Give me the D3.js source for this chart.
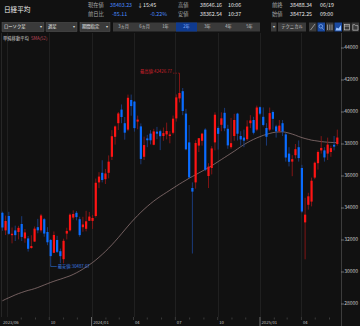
<!DOCTYPE html>
<html><head><meta charset="utf-8">
<script src="https://cdn.jsdelivr.net/npm/d3@7"></script>
<style>
html,body{margin:0;padding:0;background:#111;overflow:hidden;}
svg{display:block;font-family:"Noto Sans CJK JP","Noto Sans",sans-serif;}
</style></head><body>
<svg id="c" width="360" height="326"></svg>
<script>
// ---------- DATA ----------
const weeks = ["2023-06-19","2023-06-26","2023-07-03","2023-07-10","2023-07-17","2023-07-24","2023-07-31","2023-08-07","2023-08-14","2023-08-21","2023-08-28","2023-09-04","2023-09-11","2023-09-18","2023-09-25","2023-10-02","2023-10-09","2023-10-16","2023-10-23","2023-10-30","2023-11-06","2023-11-13","2023-11-20","2023-11-27","2023-12-04","2023-12-11","2023-12-18","2023-12-25",
"2024-01-01","2024-01-08","2024-01-15","2024-01-22","2024-01-29","2024-02-05","2024-02-12","2024-02-19","2024-02-26","2024-03-04","2024-03-11","2024-03-18","2024-03-25","2024-04-01","2024-04-08","2024-04-15","2024-04-22","2024-04-29","2024-05-06","2024-05-13","2024-05-20","2024-05-27","2024-06-03","2024-06-10","2024-06-17","2024-06-24","2024-07-01","2024-07-08","2024-07-15","2024-07-22","2024-07-29","2024-08-05","2024-08-12","2024-08-19","2024-08-26","2024-09-02","2024-09-09","2024-09-16","2024-09-23","2024-09-30","2024-10-07","2024-10-14","2024-10-21","2024-10-28","2024-11-04","2024-11-11","2024-11-18","2024-11-25","2024-12-02","2024-12-09","2024-12-16","2024-12-23","2024-12-30",
"2025-01-06","2025-01-13","2025-01-20","2025-01-27","2025-02-03","2025-02-10","2025-02-17","2025-02-24","2025-03-03","2025-03-10","2025-03-17","2025-03-24","2025-03-31","2025-04-07","2025-04-14","2025-04-21","2025-04-28","2025-05-05","2025-05-12","2025-05-19","2025-05-26","2025-06-02","2025-06-09","2025-06-16"];

const open = [33700,32600,33500,32300,32600,32500,33000,32100,32100,31500,
31900,32800,32600,33300,32500,32000,31200,32000,31300,30800,
32400,32600,33400,33700,33300,32800,32700,33200,33193,33500,
35600,36200,35800,36200,37200,38450,39300,40150,39300,38900,
40750,40650,39400,39100,37200,38350,38650,37950,38770,38800,
38500,38600,38500,38700,39600,40850,41300,39900,38100,35250,
35600,37900,38200,38900,36000,36500,38100,39000,39200,39950,
38950,37800,38500,39900,38500,38400,38300,39300,39500,38900,
40300,39700,39000,38900,40000,39100,38800,39300,38600,37400,
36900,37300,37800,36500,33100,34200,34400,35900,36800,37600,
37600,37400,37500,37950,38000];

const high = [33772,33527,33762,32780,32896,32886,33488,32691,32248,32297,
32845,33322,33634,33368,32801,32060,32533,32260,31466,32082,
32766,33666,33853,33811,33452,33452,33824,33755,33568,35839,
36239,36984,36441,37287,38865,39156,40000,40472,39688,41087,
41088,40697,39774,39286,38460,38574,38863,38950,39070,38893,
39030,39336,38797,39777,41100,42426.77,41500,40200,39188,35600,
38235,38350,38700,38980,36800,37868,39980,39100,39980,40257,
39200,39630,39884,39950,38800,38900,39480,39800,39700,40398,
40350,40288,39300,40279,40100,39200,39500,39500,38700,37800,
37300,38000,38220,36700,34639,34950,35900,36900,37600,38494,
37800,38400,37900,38500,38900];

const low = [32575,32306,32327,31791,31935,32037,31934,31830,31275,31459,
31892,32421,32466,32206,31675,30487.67,31183,31186,30551,30538,
32036,32528,33270,33227,32205,32515,32541,33181,32693,33400,
35243,35600,35500,35854,37000,37962,38876,39300,38271,38800,
39767,38774,38922,36733,37000,37800,37975,37922,38300,37617,
38200,38290,38043,38600,39400,40600,39800,37611,35880,31156,
35208,37500,37900,36300,35247,36100,37600,37651,38800,38800,
37700,37700,38200,38220,37900,37800,38200,39000,38600,38800,
39800,39100,37900,38800,38900,38400,38700,38500,36900,36600,
35987,37100,36900,33700,30792.74,33900,34100,35800,36400,37400,
36900,37000,37200,37600,37900];

const close = [32781,33189,32388,32391,32304,32759,32192,32473,31450,31624,
32710,32606,33533,32402,31857,30994,32315,31259,30991,31950,
32568,33585,33625,33431,32307,32970,33169,33464,33377,35577,
35963,35751,36158,36897,38487,39098,39910,39688,38707,40888,
40369,38992,39523,37068,37934,38236,38229,38787,38646,38487,
38683,38814,38596,39583,40912,41190,40063,37667,35909,35025,
38062,38364,38647,36391,36581,37723,39829,38635,39605,38981,
37913,38053,39500,38642,38283,38208,39091,39470,38701,40281,
39894,39190,38451,39931,39572,38787,39149,38776,37155,36887,
37053,37677,37120,33780,33585,34730,35705,36830,37503,37753,
37160,37965,37741,37834,38403.23];

const sma52 = [28200,28300,28390,28480,28570,28650,28720,28790,28850,28900,
28960,29030,29110,29190,29270,29350,29420,29490,29550,29620,
29690,29760,29850,29950,30060,30180,30310,30450,30590,30750,
30920,31100,31290,31490,31700,31920,32150,32390,32630,32870,
33100,33320,33530,33730,33920,34100,34270,34430,34580,34720,
34850,34980,35110,35240,35370,35500,35620,35740,35860,35970,
36080,36190,36300,36410,36520,36640,36770,36900,37030,37160,
37290,37420,37550,37690,37830,37960,38080,38190,38290,38380,
38460,38540,38600,38660,38710,38740,38760,38760,38730,38680,
38620,38550,38470,38400,38340,38290,38240,38210,38180,38150,
38130,38110,38100,38090,38080];

const yTicks = [28000,30000,32000,34000,36000,38000,40000,42000,44000];
const xGridDates = ["2023-07-01","2023-10-01","2024-01-01","2024-04-01","2024-07-01","2024-10-01","2025-01-01","2025-04-01"];
const xLabelDates = ["2023-06-19","2023-10-01","2024-01-01","2024-04-01","2024-07-01","2024-10-01","2025-01-01","2025-04-01"];
const xLabelTexts = ["2023/06","10","2024/01","04","07","10","2025/01","04"];
const minorTickDates = ["2023-08-01","2023-09-01","2023-11-01","2023-12-01","2024-02-01","2024-03-01","2024-05-01","2024-06-01","2024-08-01","2024-09-01","2024-11-01","2024-12-01","2025-02-01","2025-03-01","2025-05-01","2025-06-01"];

const headerRow1 = [["現在値","lab"],["38403.23","blue"],["↓","val"],["15:45","val"],["高値","lab"],["38646.16","val"],["10:06","val"],["前終","lab"],["38488.34","val"],["06/19","val"]];
const headerRow2 = [["前日比","lab"],["-85.11","blue"],["-0.22%","blue"],["","val"],["安値","lab"],["38362.54","val"],["10:37","val"],["始値","lab"],["38472.25","val"],["09:00","val"]];
const headerX = [88,110,137.5,143,178,200,228,272,290,320];
const headerX2 = [88,112,150,0,178,200,228,272,290,320];
const dropdowns = ["ローソク足","週足","期間指定"];
const tabs = ["3ヵ月","6ヵ月","1年","2年","3年","4年","5年"];
const selectedTab = "2年";

// ---------- DRAW ----------
const parse = d3.timeParse("%Y-%m-%d");
const svg = d3.select("#c");
const P = {l:1, r:341, t:33, b:317};
svg.append("rect").attr("width",360).attr("height",326).attr("fill","#111");

const x = d3.scaleTime().domain([new Date(2023,5,18), new Date(2025,5,26)]).range([P.l, P.r]);
const y = d3.scaleLinear().domain([28000,44000]).range([304,48]);
const cx = i => x(d3.timeDay.offset(parse(weeks[i]), 2));

// header
svg.append("text").attr("x",4).attr("y",10).attr("dominant-baseline","middle")
  .attr("font-size",6.6).attr("fill","#eee").text("日経平均");
const col = {lab:"#a8a8a8", val:"#e6e6e6", blue:"#4a8cff"};
headerRow1.forEach((d,i)=>svg.append("text").attr("x",headerX[i]).attr("y",6).attr("dominant-baseline","middle")
  .attr("font-size",5.3).attr("fill",col[d[1]]).text(d[0]));
headerRow2.forEach((d,i)=>{ if(!d[0]) return; svg.append("text").attr("x",headerX2[i]).attr("y",15).attr("dominant-baseline","middle")
  .attr("font-size",5.3).attr("fill",col[d[1]]).text(d[0]);});

// toolbar
const ddX = [[2,44],[46,77],[80,110]];
dropdowns.forEach((t,i)=>{
  const [a,b]=ddX[i];
  svg.append("rect").attr("x",a).attr("y",22.5).attr("width",b-a).attr("height",9).attr("fill","#3a3a3a").attr("stroke","#5a5a5a").attr("stroke-width",0.5);
  svg.append("text").attr("x",a+2).attr("y",27.2).attr("dominant-baseline","middle").attr("font-size",4.3).attr("fill","#eee").text(t);
  svg.append("text").attr("x",b-2).attr("y",27.2).attr("dominant-baseline","middle").attr("text-anchor","end").attr("font-size",4).attr("fill","#ddd").text("▾");
});
svg.append("rect").attr("x",113).attr("y",22.5).attr("width",147).attr("height",9).attr("fill","#3a3a3a");
tabs.forEach((t,i)=>{
  const a = 113+i*21;
  if(t===selectedTab) svg.append("rect").attr("x",a).attr("y",22.5).attr("width",21).attr("height",9).attr("fill","#0f3a8f");
  svg.append("text").attr("x",a+10.5).attr("y",27.2).attr("dominant-baseline","middle").attr("text-anchor","middle")
    .attr("font-size",4.2).attr("fill",t===selectedTab?"#8fb8ff":"#c8c8c8").text(t);
});
svg.append("rect").attr("x",271).attr("y",22.5).attr("width",5.5).attr("height",9).attr("fill","#3a3a3a");
svg.append("text").attr("x",273.7).attr("y",27.2).attr("dominant-baseline","middle").attr("text-anchor","middle").attr("font-size",4).attr("fill","#ddd").text("▾");
svg.append("rect").attr("x",278).attr("y",22.5).attr("width",28).attr("height",9).attr("fill","#3a3a3a");
svg.append("text").attr("x",292).attr("y",27.2).attr("dominant-baseline","middle").attr("text-anchor","middle").attr("font-size",4.3).attr("fill","#ccc").text("テクニカル");
// icons
const icons = [[309,"#3a3a3a"],[317.5,"#1b4aa0"],[326,"#3a3a3a"],[334.5,"#1b4aa0"],[343,"#3a3a3a"],[351.5,"#3a3a3a"]];
icons.forEach(([a,f])=>svg.append("rect").attr("x",a).attr("y",22.5).attr("width",7.5).attr("height",9).attr("fill",f));
const ic = svg.append("g").attr("stroke","#ccc").attr("stroke-width",0.6).attr("fill","none");
ic.append("line").attr("x1",310.5).attr("y1",30).attr("x2",315).attr("y2",24);
ic.append("circle").attr("cx",320.8).attr("cy",26.3).attr("r",1.8).attr("stroke","#9cc4ff");
ic.append("line").attr("x1",322).attr("y1",27.7).attr("x2",323.6).attr("y2",29.7).attr("stroke","#9cc4ff");
[327.5,329.8,332].forEach(a=>ic.append("line").attr("x1",a).attr("y1",24.5).attr("x2",a).attr("y2",30));
ic.append("path").attr("d","M335.5,30.5 L336.5,27.5 L338.5,28.5 L341,25 L341,30.5 Z").attr("fill","#9cc4ff").attr("stroke","none");
ic.append("rect").attr("x",344.3).attr("y",24.3).attr("width",5).attr("height",5.6);
ic.append("line").attr("x1",344.3).attr("y1",26.1).attr("x2",349.3).attr("y2",26.1);
ic.append("path").attr("d","M352.8,24.7 h2 l0.8,0.9 h2.4 v4.6 h-5.2 Z");

// grid
const g = svg.append("g");
xGridDates.forEach(d=>{
  const xx = Math.round(x(parse(d)))+0.5;
  g.append("line").attr("x1",xx).attr("x2",xx).attr("y1",P.t).attr("y2",P.b).attr("stroke","#202020").attr("stroke-width",1);
});
g.append("line").attr("x1",1.5).attr("x2",1.5).attr("y1",P.t).attr("y2",P.b).attr("stroke","#262626");
// right axis
g.append("line").attr("x1",P.r+0.5).attr("x2",P.r+0.5).attr("y1",P.t).attr("y2",326).attr("stroke","#3c3c3c");
yTicks.forEach(v=>{
  g.append("line").attr("x1",P.r).attr("x2",P.r+3).attr("y1",y(v)).attr("y2",y(v)).attr("stroke","#aaa").attr("stroke-width",0.6);
  g.append("text").attr("x",P.r+3.2).attr("y",y(v)).attr("dominant-baseline","middle").attr("font-size",5).attr("fill","#c8c8c8").text(v);
});
// x axis
minorTickDates.forEach(d=>{
  const xx = x(parse(d));
  g.append("line").attr("x1",xx).attr("x2",xx).attr("y1",317.5).attr("y2",319.5).attr("stroke","#555").attr("stroke-width",0.6);
});
xLabelDates.forEach((d,i)=>{
  const xx = i===0 ? 3 : x(parse(d));
  const isYear = xLabelTexts[i].includes("/") && i>0;
  if(i>0) g.append("line").attr("x1",xx).attr("x2",xx).attr("y1",317).attr("y2",isYear?326:320)
     .attr("stroke",isYear?"#8a8a8a":"#555").attr("stroke-width",isYear?0.8:0.6);
  g.append("text").attr("x",i===0?3:xx+1.5).attr("y",322.8).attr("dominant-baseline","middle")
    .attr("font-size",4.2).attr("fill","#c0c0c0").text(xLabelTexts[i]);
});

// legend
svg.append("text").attr("x",3).attr("y",39).attr("dominant-baseline","middle").attr("font-size",4.3).attr("fill","#cfcfcf").text("単純移動平均");
svg.append("text").attr("x",31).attr("y",39).attr("dominant-baseline","middle").attr("font-size",4.3).attr("fill","#c04a5e").text("SMA(52)");

// SMA line
const line = d3.line().x((d,i)=>cx(i)).y(d=>y(d)).curve(d3.curveMonotoneX);
svg.append("path").attr("d",line(sma52)).attr("fill","none").attr("stroke","#9c8080").attr("stroke-width",0.7);

// candles
const upB="#ff1414", upW="#8c1616", dnB="#0a6cff", dnW="#1c3f86";
const cg = svg.append("g");
weeks.forEach((w,i)=>{
  const up = close[i] >= open[i];
  const xx = cx(i);
  cg.append("line").attr("x1",xx).attr("x2",xx).attr("y1",y(high[i])).attr("y2",y(low[i]))
    .attr("stroke",up?upW:dnW).attr("stroke-width",0.9);
  const top = y(Math.max(open[i],close[i])), bot = y(Math.min(open[i],close[i]));
  cg.append("rect").attr("x",xx-1.1).attr("width",2.2).attr("y",top).attr("height",Math.max(1,bot-top))
    .attr("fill",up?upB:dnB);
});

// annotations: highest / lowest
const iHi = high.indexOf(d3.max(high)), iLo = low.indexOf(d3.min(low));
const hx = cx(iHi), hy = y(high[iHi]);
svg.append("line").attr("x1",173).attr("x2",hx).attr("y1",hy).attr("y2",hy).attr("stroke","#b01818").attr("stroke-width",0.6).attr("stroke-dasharray","1.5,1");
svg.append("text").attr("x",172).attr("y",hy-1.3).attr("dominant-baseline","middle").attr("text-anchor","end")
  .attr("font-size",4.3).attr("fill","#d0202a").text("最高値:" + d3.format(".2f")(high[iHi]));
const lx = cx(iLo), ly = y(low[iLo]);
svg.append("path").attr("d",`M${lx},${ly} V${ly+2.3} H${lx+6}`).attr("fill","none").attr("stroke","#2e6fd8").attr("stroke-width",0.6);
svg.append("text").attr("x",lx+7).attr("y",ly+2.3).attr("dominant-baseline","middle")
  .attr("font-size",4.3).attr("fill","#3a7ae0").text("最安値:" + d3.format(".2f")(low[iLo]));
</script>
</body></html>
